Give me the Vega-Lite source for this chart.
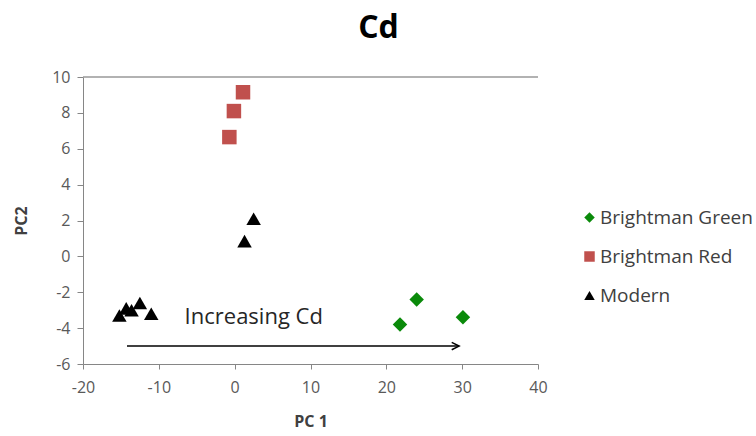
{
  "$schema": "https://vega.github.io/schema/vega-lite/v6.json",
  "width": 455,
  "height": 287,
  "autosize": "none",
  "padding": {"left": 83, "top": 77, "right": 218, "bottom": 72},
  "background": "white",
  "config": {
    "view": {"stroke": null},
    "font": "Open Sans",
    "axis": {"grid": false, "domainColor": "#868686", "tickColor": "#868686", "labelColor": "#595959", "labelFontSize": 16, "titleFontSize": 16, "titleFontWeight": "bold", "titleColor": "#404040", "labelFont": "Open Sans", "titleFont": "Open Sans", "labelOverlap": false, "labelFlush": false}
  },
  "title": {"text": "Cd", "fontSize": 32, "fontWeight": "bold", "color": "#000000", "font": "Open Sans", "anchor": "middle", "frame": "group", "dx": 68, "offset": 24},
  "layer": [
    {
      "data": {"values": [
        {"pc1": 24.0, "pc2": -2.4, "group": "Brightman Green"},
        {"pc1": 21.8, "pc2": -3.8, "group": "Brightman Green"},
        {"pc1": 30.1, "pc2": -3.4, "group": "Brightman Green"},
        {"pc1": 1.1, "pc2": 9.15, "group": "Brightman Red"},
        {"pc1": -0.1, "pc2": 8.1, "group": "Brightman Red"},
        {"pc1": -0.7, "pc2": 6.65, "group": "Brightman Red"},
        {"pc1": 2.5, "pc2": 2.1, "group": "Modern"},
        {"pc1": 1.3, "pc2": 0.85, "group": "Modern"},
        {"pc1": -15.2, "pc2": -3.3, "group": "Modern"},
        {"pc1": -14.3, "pc2": -2.9, "group": "Modern"},
        {"pc1": -13.6, "pc2": -3.0, "group": "Modern"},
        {"pc1": -12.5, "pc2": -2.6, "group": "Modern"},
        {"pc1": -11.0, "pc2": -3.2, "group": "Modern"}
      ]},
      "mark": {"type": "point", "filled": true, "opacity": 1, "size": 210},
      "encoding": {
        "x": {"field": "pc1", "type": "quantitative", "title": "PC 1", "scale": {"domain": [-20, 40], "nice": false, "zero": false}, "axis": {"values": [-20, -10, 0, 10, 20, 30, 40], "tickCount": 30, "labelExpr": "toString(datum.value)", "tickSize": 5, "labelPadding": 10, "titlePadding": 18}},
        "y": {"field": "pc2", "type": "quantitative", "title": "PC2", "scale": {"domain": [-6, 10], "nice": false, "zero": false}, "axis": {"values": [-6, -4, -2, 0, 2, 4, 6, 8, 10], "tickCount": 30, "labelExpr": "toString(datum.value)", "tickSize": 6, "labelPadding": 7, "titlePadding": 22}},
        "color": {"field": "group", "type": "nominal", "title": null, "scale": {"domain": ["Brightman Green", "Brightman Red", "Modern"], "range": ["#0a8a0a", "#c0504d", "#000000"]},
          "legend": {"orient": "none", "legendX": 497, "legendY": 131, "labelFontSize": 19, "labelColor": "#404040", "symbolSize": 110, "rowPadding": 19, "labelOffset": 1, "labelFont": "Open Sans"}},
        "shape": {"field": "group", "type": "nominal", "scale": {"domain": ["Brightman Green", "Brightman Red", "Modern"], "range": ["diamond", "square", "triangle-up"]}}
      }
    },
    {
      "data": {"values": [{"y": 10}]},
      "mark": {"type": "rule", "color": "#999999", "strokeWidth": 1.5},
      "encoding": {"y": {"field": "y", "type": "quantitative"}}
    },
    {
      "data": {"values": [{"x1": -14.2, "x2": 29.6, "y": -5}]},
      "mark": {"type": "rule", "color": "#000000", "strokeWidth": 1.5},
      "encoding": {"x": {"field": "x1", "type": "quantitative"}, "x2": {"field": "x2"}, "y": {"field": "y", "type": "quantitative"}}
    },
    {
      "data": {"values": [{"x": 29.6, "y": -5}]},
      "mark": {"type": "point", "shape": "M-1,-0.5L0,0L-1,0.5", "filled": false, "stroke": "#000000", "strokeWidth": 1.5, "size": 220, "opacity": 1},
      "encoding": {"x": {"field": "x", "type": "quantitative"}, "y": {"field": "y", "type": "quantitative"}}
    },
    {
      "data": {"values": [{"x": -6.6, "y": -3.4, "label": "Increasing Cd"}]},
      "mark": {"type": "text", "align": "left", "baseline": "middle", "fontSize": 22, "color": "#262626", "font": "Open Sans"},
      "encoding": {"x": {"field": "x", "type": "quantitative"}, "y": {"field": "y", "type": "quantitative"}, "text": {"field": "label"}}
    }
  ]
}
